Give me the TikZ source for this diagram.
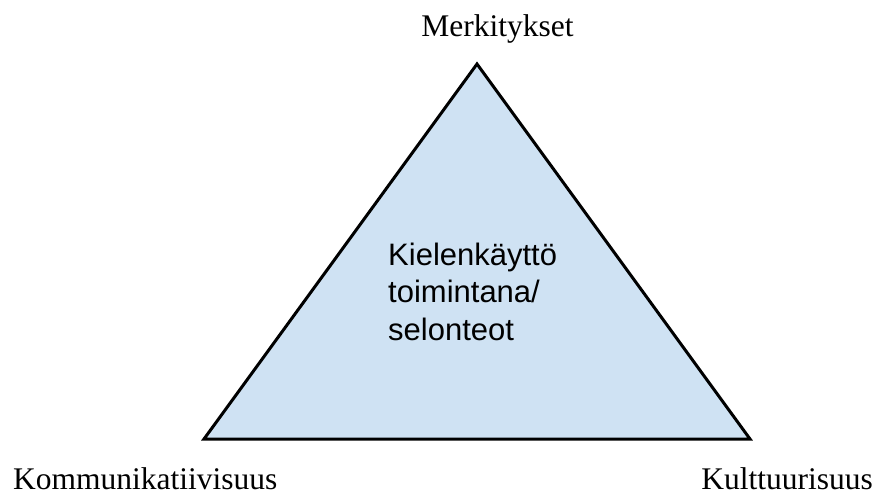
\documentclass[tikz,border=0pt]{standalone}
\usepackage{fontspec}
\setmainfont{Liberation Serif}
\newfontfamily\arialfont{Liberation Sans}
\definecolor{triblue}{HTML}{CFE2F3}
\begin{document}
\begin{tikzpicture}[x=1pt,y=-1pt,
  lbl/.style={font=\fontsize{31.5}{36}\selectfont, inner sep=0pt},
  inner/.style={font=\arialfont\fontsize{31}{37}\selectfont, align=left, inner sep=0pt}]
\useasboundingbox (0,0) rectangle (878,494);
\coordinate (top) at (477,64);
\coordinate (bl) at (204,439);
\coordinate (br) at (750,439);
\draw[line width=3pt, fill=triblue, line join=miter] (top) -- (bl) -- (br) -- cycle;
\node[inner, anchor=base west] (mid) at (388,340) {Kielenk\"aytt\"o\\toimintana/\\selonteot};
\node[lbl, anchor=base] (m) at (497.5,37) {Merkitykset};
\node[lbl, anchor=base west] (k) at (13,489) {Kommunikatiivisuus};
\node[lbl, anchor=base east] (c) at (873,489) {Kulttuurisuus};
\end{tikzpicture}
\end{document}
